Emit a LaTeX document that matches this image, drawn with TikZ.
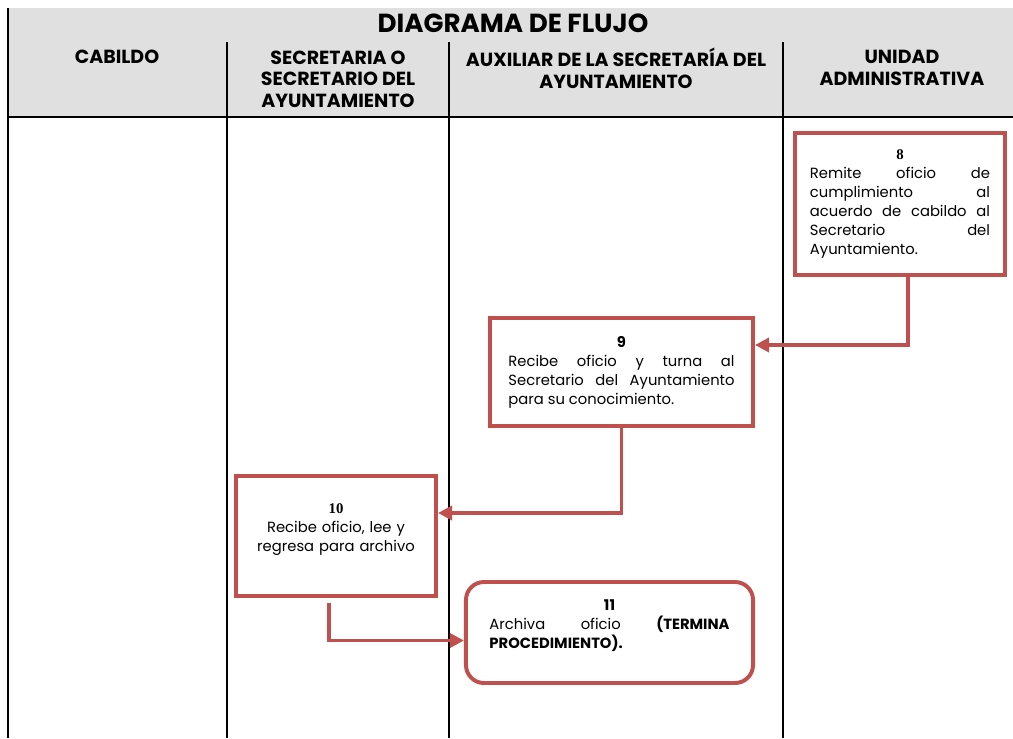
\documentclass[tikz,border=0pt]{standalone}
\usepackage{fontspec}
\setmainfont{Poppins}
\newfontfamily\numfont{Liberation Serif}
\usepackage{tikz}
\usetikzlibrary{positioning}
\usetikzlibrary{calc,arrows.meta}
\definecolor{rojo}{RGB}{192,80,77}
\definecolor{gris}{RGB}{224,224,224}
\tikzset{
  paso/.style={
    draw=rojo,
    line width=2.8pt,
    fill=white,
    align=justify,
    font=\fontsize{10.5}{13.5}\selectfont,
  },
  flecha/.style={
    draw=rojo,
    line width=2.8pt,
    -{Triangle[length=10pt,width=10pt]},
  },
  encabezado/.style={
    align=center,
    font=\bfseries\fontsize{13.5}{15.4}\selectfont,
  },
  carril/.style={
    draw=black,
    line width=0.8pt,
  },
}
\newcommand{\numero}[1]{\hbox to\hsize{\hfil\bfseries #1\hfil}\\}
\newcommand{\bajo}{\rule[-0.4cm]{0pt}{0.4cm}}

\begin{document}
\begin{tikzpicture}[x=0.025cm,y=-0.025cm]
    \useasboundingbox (0,0) rectangle (1013,738);
    % encabezado
    \fill[gris] (8,8) rectangle (1013,117);
    \draw[carril] (8,117) -- (1013,117);
    \draw[carril] (8,8) -- (8,738);
    \foreach \x in {227,449,783}
      \draw[carril] (\x,42) -- (\x,738);
    \node[font=\bfseries\fontsize{18.6}{20}\selectfont] (titulo) at (513,23) {DIAGRAMA DE FLUJO};
    \node[encabezado] (cabildo) at (117,57) {CABILDO};
    \node[encabezado] (secretario) at (338,79) {SECRETARIA O\\SECRETARIO DEL\\AYUNTAMIENTO};
    \node[encabezado] (auxiliar) at (616,68) {AUXILIAR DE LA SECRETAR\'IA DEL\\AYUNTAMIENTO};
    \node[encabezado] (unidad) at (902,68) {UNIDAD\\ADMINISTRATIVA};
    % pasos
    \node[paso, minimum width=5.25cm, minimum height=3.55cm, text width=4.5cm] (b8) at (900,204)
      {\numero{\numfont 8}Remite oficio de\linebreak cumplimiento al\linebreak acuerdo de cabildo al\linebreak Secretario del\linebreak Ayuntamiento.};
    \node[paso, minimum width=6.575cm, minimum height=2.7cm, text width=5.65cm] (b9) at (621.5,372)
      {\numero{9}Recibe oficio y turna al\linebreak Secretario del Ayuntamiento\linebreak para su conocimiento.};
    \node[paso, align=center, minimum width=5cm, minimum height=3cm, text width=4.5cm] (b10) at (336,536)
      {{\bfseries\numfont 10}\\Recibe oficio, lee y\\regresa para archivo\bajo};
    \node[paso, rounded corners=0.45cm, minimum width=7.175cm, minimum height=2.525cm, text width=6cm] (b11) at (609.5,632.5)
      {\numero{11}Archiva oficio \textbf{(TERMINA}\linebreak \textbf{PROCEDIMIENTO).}\bajo};
    % flechas
    \draw[flecha] ($(b8.south)+(8,0)$) |- ($(b9.east)+(0,-27)$);
    \draw[flecha] (b9.south) |- ($(b10.east)+(0,-23)$);
    \draw[flecha] ($(b10.south)+(-7,5)$) |- ($(b11.west)+(0,8)$);
  \end{tikzpicture}
\end{document}
